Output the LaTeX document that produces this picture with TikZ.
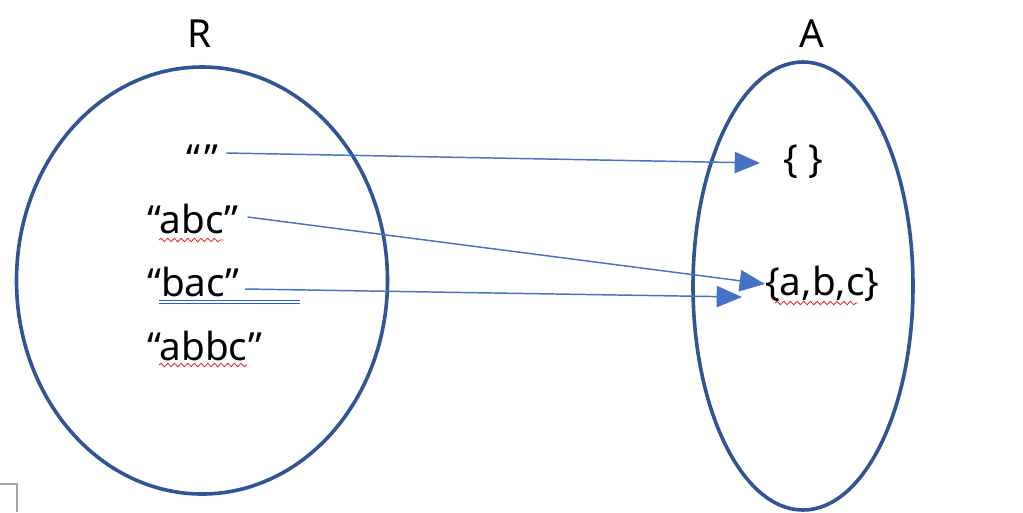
\documentclass[tikz,border=0pt]{standalone}
\usepackage{fontspec}
\setmainfont{Noto Sans}
\usepackage{tikz}
\usetikzlibrary{arrows.meta,calc,decorations.pathmorphing}
\definecolor{setblue}{HTML}{2F5597}
\definecolor{arrowblue}{HTML}{4472C4}
\definecolor{spellred}{HTML}{E82020}
\definecolor{gramblue}{HTML}{1F5FE0}
\definecolor{cornergray}{HTML}{A6A6A6}
\newcommand{\bigtxt}{\fontsize{29}{34}\selectfont}

\begin{document}
\begin{tikzpicture}[x=0.75pt,y=-0.75pt]
\useasboundingbox (0,0) rectangle (1023,512);
\draw[cornergray, line width=1pt] (0,484) -- (17,484) -- (17,512);
% the two sets
\draw[setblue, line width=2.7pt] (202,280.5) ellipse [x radius=185.5, y radius=213.5];
\draw[setblue, line width=2.7pt] (803,286) ellipse [x radius=110, y radius=224];
\node[anchor=base, inner sep=0] (nameR) at (200,47) {\bigtxt R};
\node[anchor=base, inner sep=0] (nameA) at (812,47) {\bigtxt A};
% strings
\node[anchor=base west, inner sep=0] (empty) at (186,172) {\bigtxt “\hspace{3pt}”};
\node[anchor=base west, inner sep=0] (abc) at (147,233) {\bigtxt “abc”};
\node[anchor=base west, inner sep=0] (bac) at (147,296) {\bigtxt “bac”};
\node[anchor=base west, inner sep=0] (abbc) at (147,360) {\bigtxt “abbc”};
% sets of letters
\node[anchor=base west, inner sep=0] (setempty) at (783,172) {\bigtxt \{ \}};
\node[anchor=base west, inner sep=0] (setabc) at (765,295) {\bigtxt \{a,b,c\}};
% word underlines
\draw[spellred, line width=0.6pt, decorate, decoration={snake, segment length=5, amplitude=1.3}] (159,240) -- (223,240);
\draw[spellred, line width=0.6pt, decorate, decoration={snake, segment length=5, amplitude=1.3}] (159,365) -- (247,365);
\draw[spellred, line width=0.6pt, decorate, decoration={snake, segment length=5, amplitude=1.3}] (775,303) -- (858,303);
\draw[gramblue, line width=0.6pt] (159,300) -- (300,300);
\draw[gramblue, line width=0.6pt] (159,303.5) -- (300,303.5);
% mapping
\draw[arrowblue, line width=1.1pt, -{Triangle[length=19pt, width=16pt]}] ($(empty.base east)+(8,-19)$) -- ($(setempty.base west)+(-23,-9)$);
\draw[arrowblue, line width=1.1pt, -{Triangle[length=19pt, width=16pt]}] ($(abc.base east)+(9,-16)$) -- ($(setabc.base west)+(0,-11)$);
\draw[arrowblue, line width=1.1pt, -{Triangle[length=19pt, width=16pt]}] ($(bac.base east)+(5,-7)$) -- ($(setabc.base west)+(-23,2)$);
\end{tikzpicture}
\end{document}
